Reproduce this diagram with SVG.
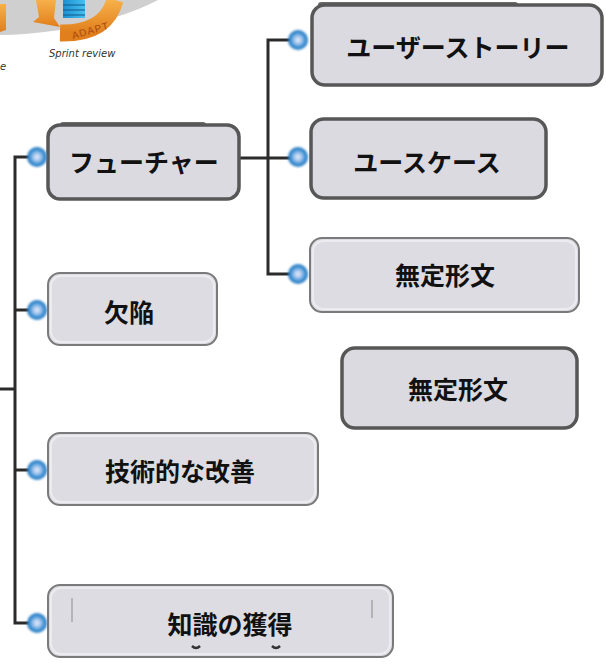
<svg xmlns="http://www.w3.org/2000/svg" width="606" height="664" viewBox="0 0 606 664">
  <defs>
    <radialGradient id="knob" cx="50%" cy="50%" r="50%">
      <stop offset="0" stop-color="#e8eefa"/>
      <stop offset="0.35" stop-color="#a9c8ee"/>
      <stop offset="0.7" stop-color="#3f94d6"/>
      <stop offset="1" stop-color="#2a78bd"/>
    </radialGradient>
    <filter id="glow" x="-50%" y="-50%" width="200%" height="200%">
      <feGaussianBlur stdDeviation="0.9"/>
    </filter>
    <linearGradient id="orange" x1="0" y1="0" x2="0" y2="1">
      <stop offset="0" stop-color="#f7b04a"/>
      <stop offset="1" stop-color="#e07f1c"/>
    </linearGradient>
    <linearGradient id="cube" x1="0" y1="0" x2="1" y2="0">
      <stop offset="0" stop-color="#1d8fd0"/>
      <stop offset="1" stop-color="#45c0f0"/>
    </linearGradient>
  </defs>
  <style>
    .box { fill: #dadae0; stroke: #575757; stroke-width: 3.5; }
    .box-soft { fill: #dcdce2; stroke: #7a7a7a; stroke-width: 2; }
    .inner { fill: none; stroke: #ececf0; stroke-width: 2; }
    .shadow { fill: #6a6a6a; }
    .label { font-family: "Noto Sans CJK JP", "Noto Sans", sans-serif; font-weight: bold; font-size: 25px; fill: #111; text-anchor: middle; }
    .wire { fill: none; stroke: #2b2b2b; stroke-width: 3; }
    .hand { font-family: "DejaVu Sans", sans-serif; font-style: italic; font-size: 10px; fill: #333; }
  </style>

  <rect width="606" height="664" fill="#ffffff"/>

  <!-- sprint cycle artwork, clipped at the top-left corner -->
  <g id="sprint-art">
    <path d="M0,0 H158 Q120,20 60,30 Q25,35 0,35 Z" fill="#cfcfcf"/>
    <path d="M0,4 L6,4 L6,30 L0,32 Z" fill="url(#orange)"/>
    <path d="M36,0 H56 L54,18 L60,27 L33,22 L39,17 Z" fill="url(#orange)"/>
    <g id="cube-stack">
      <rect x="63" y="0" width="22" height="18" fill="url(#cube)"/>
      <path d="M63,5 H85 M63,10 H85 M63,15 H85" stroke="#0f5a8a" stroke-width="1"/>
    </g>
    <path d="M60,33 Q106,34 115,0" fill="none" stroke="url(#orange)" stroke-width="17"/>
    <text x="71" y="35" transform="rotate(-16 87 30)" font-family="Liberation Sans, sans-serif" font-size="10" fill="#a84a10" letter-spacing="1">ADAPT</text>
    <text class="hand" x="49" y="57">Sprint review</text>
    <text class="hand" x="0" y="70">e</text>
  </g>

  <!-- connectors -->
  <g id="connectors">
    <path class="wire" d="M0,389 H15"/>
    <path class="wire" d="M37,157 H15 V623 H37"/>
    <path class="wire" d="M15,310 H37 M15,470 H37"/>
    <path class="wire" d="M239,158 H298"/>
    <path class="wire" d="M298,40 H268 V274 H298"/>
  </g>

  <!-- topic nodes -->
  <g id="feature">
    <rect class="shadow" x="60" y="122" width="146" height="6" rx="3"/>
    <rect class="box" x="48" y="125" width="191" height="74" rx="12"/>
    <text class="label" x="144" y="172">フューチャー</text>
  </g>
  <g id="user-story">
    <rect class="shadow" x="318" y="2" width="200" height="6" rx="3"/>
    <rect class="box" x="312" y="5" width="290" height="80" rx="13"/>
    <text class="label" x="458" y="57">ユーザーストーリー</text>
  </g>
  <g id="use-case">
    <rect class="box" x="311" y="119" width="235" height="79" rx="13"/>
    <text class="label" x="427" y="172">ユースケース</text>
  </g>
  <g id="unstructured-1">
    <rect class="box-soft" x="310" y="238" width="269" height="74" rx="12"/>
    <rect class="inner" x="313" y="241" width="263" height="68" rx="10"/>
    <text class="label" x="445" y="285">無定形文</text>
  </g>
  <g id="unstructured-2">
    <rect class="box" x="342" y="348" width="235" height="80" rx="13"/>
    <text class="label" x="458" y="399">無定形文</text>
  </g>
  <g id="defect">
    <rect class="box-soft" x="48" y="273" width="169" height="72" rx="12"/>
    <rect class="inner" x="51" y="276" width="163" height="66" rx="10"/>
    <text class="label" x="129" y="322">欠陥</text>
  </g>
  <g id="tech-improvement">
    <rect class="box-soft" x="48" y="433" width="270" height="72" rx="12"/>
    <rect class="inner" x="51" y="436" width="264" height="66" rx="10"/>
    <text class="label" x="180" y="481">技術的な改善</text>
  </g>
  <g id="knowledge">
    <rect class="box-soft" x="48" y="585" width="345" height="72" rx="12"/>
    <rect class="inner" x="51" y="588" width="339" height="66" rx="10"/>
    <path d="M72,598 V622 M372,600 V618" stroke="#9a9a9a" stroke-width="1.2"/>
    <path d="M192,646 Q196,650 200,646 M272,646 Q276,650 280,646" stroke="#333" stroke-width="2.5" fill="none"/>
    <text class="label" x="230" y="634">知識の獲得</text>
  </g>

  <!-- connection knobs -->
  <g id="knobs">
    <g filter="url(#glow)">
      <circle cx="37" cy="157" r="10" fill="url(#knob)"/>
      <circle cx="37" cy="310" r="10" fill="url(#knob)"/>
      <circle cx="37" cy="470" r="10" fill="url(#knob)"/>
      <circle cx="37" cy="623" r="10" fill="url(#knob)"/>
      <circle cx="298" cy="40" r="10" fill="url(#knob)"/>
      <circle cx="298" cy="157" r="10" fill="url(#knob)"/>
      <circle cx="298" cy="274" r="10" fill="url(#knob)"/>
    </g>
  </g>
</svg>
